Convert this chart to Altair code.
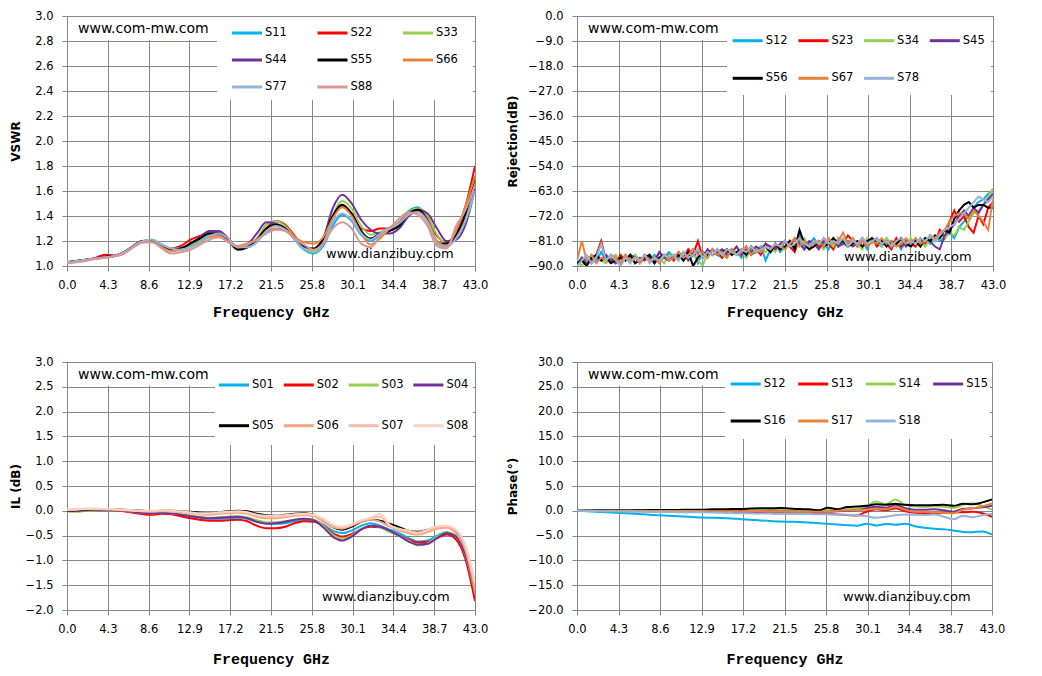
import altair as alt
import pandas as pd

# ---------------- frequency grids (GHz) ----------------
FREQ = list(range(44))                 # 0,1,...,43 GHz
FREQ_HALF = [i / 2 for i in range(87)]  # 0,0.5,...,43 GHz
X_TICKS = [0.0, 4.3, 8.6, 12.9, 17.2, 21.5, 25.8, 30.1, 34.4, 38.7, 43.0]

# ---------------- VSWR ----------------
VSWR_NAMES = ["S11", "S22", "S33", "S44", "S55", "S66", "S77", "S88"]
VSWR_COLORS = ["#00B0F0", "#FF0000", "#92D050", "#7030A0", "#000000", "#E8833A", "#95B3D7", "#D99694"]
VSWR_TICKS = [1.0, 1.2, 1.4, 1.6, 1.8, 2.0, 2.2, 2.4, 2.6, 2.8, 3.0]
S11 = [1.03, 1.04, 1.05, 1.06, 1.07, 1.08, 1.11, 1.16, 1.20, 1.21,
       1.17, 1.14, 1.14, 1.16, 1.20, 1.25, 1.27, 1.22, 1.14, 1.15,
       1.19, 1.29, 1.33, 1.30, 1.21, 1.13, 1.10, 1.16, 1.32, 1.41,
       1.36, 1.25, 1.20, 1.25, 1.30, 1.35, 1.44, 1.47, 1.37, 1.19,
       1.16, 1.22, 1.38, 1.62]
S22 = [1.03, 1.04, 1.05, 1.065, 1.09, 1.085, 1.11, 1.16, 1.20, 1.20,
       1.16, 1.14, 1.16, 1.21, 1.24, 1.27, 1.26, 1.21, 1.14, 1.15,
       1.21, 1.30, 1.36, 1.33, 1.24, 1.15, 1.12, 1.20, 1.39, 1.48,
       1.42, 1.30, 1.28, 1.30, 1.30, 1.33, 1.40, 1.44, 1.38, 1.24,
       1.19, 1.27, 1.48, 1.80]
S33 = [1.03, 1.04, 1.05, 1.06, 1.075, 1.08, 1.11, 1.16, 1.20, 1.21,
       1.17, 1.14, 1.14, 1.17, 1.21, 1.26, 1.26, 1.21, 1.14, 1.16,
       1.22, 1.33, 1.36, 1.32, 1.23, 1.14, 1.11, 1.18, 1.40, 1.52,
       1.46, 1.32, 1.25, 1.27, 1.30, 1.34, 1.43, 1.46, 1.40, 1.25,
       1.18, 1.23, 1.40, 1.68]
S44 = [1.03, 1.04, 1.05, 1.06, 1.075, 1.08, 1.11, 1.16, 1.20, 1.20,
       1.16, 1.13, 1.14, 1.18, 1.23, 1.28, 1.28, 1.22, 1.14, 1.17,
       1.26, 1.35, 1.34, 1.30, 1.22, 1.15, 1.13, 1.22, 1.46, 1.57,
       1.50, 1.37, 1.29, 1.26, 1.26, 1.30, 1.40, 1.45, 1.42, 1.30,
       1.20, 1.21, 1.33, 1.62]
S55 = [1.03, 1.04, 1.05, 1.06, 1.075, 1.08, 1.11, 1.16, 1.20, 1.20,
       1.16, 1.13, 1.14, 1.18, 1.22, 1.26, 1.26, 1.20, 1.13, 1.15,
       1.21, 1.30, 1.33, 1.30, 1.22, 1.15, 1.14, 1.22, 1.40, 1.49,
       1.42, 1.28, 1.22, 1.26, 1.28, 1.32, 1.42, 1.45, 1.36, 1.18,
       1.18, 1.25, 1.42, 1.72]
S66 = [1.03, 1.035, 1.05, 1.06, 1.07, 1.08, 1.10, 1.15, 1.19, 1.19,
       1.15, 1.12, 1.13, 1.15, 1.19, 1.23, 1.24, 1.20, 1.16, 1.18,
       1.21, 1.27, 1.30, 1.29, 1.23, 1.19, 1.18, 1.23, 1.38, 1.47,
       1.40, 1.26, 1.17, 1.22, 1.30, 1.35, 1.42, 1.43, 1.36, 1.20,
       1.16, 1.28, 1.48, 1.72]
S77 = [1.03, 1.04, 1.05, 1.06, 1.07, 1.08, 1.11, 1.16, 1.20, 1.21,
       1.17, 1.14, 1.13, 1.15, 1.19, 1.24, 1.26, 1.22, 1.15, 1.15,
       1.19, 1.28, 1.32, 1.29, 1.21, 1.14, 1.12, 1.18, 1.35, 1.42,
       1.37, 1.26, 1.21, 1.26, 1.31, 1.34, 1.41, 1.43, 1.35, 1.18,
       1.15, 1.22, 1.36, 1.60]
S88 = [1.02, 1.03, 1.04, 1.055, 1.065, 1.075, 1.10, 1.15, 1.19, 1.19,
       1.14, 1.10, 1.11, 1.13, 1.17, 1.21, 1.23, 1.19, 1.15, 1.17,
       1.21, 1.26, 1.29, 1.28, 1.22, 1.17, 1.13, 1.18, 1.30, 1.35,
       1.30, 1.18, 1.15, 1.24, 1.30, 1.38, 1.43, 1.41, 1.32, 1.16,
       1.14, 1.32, 1.45, 1.65]
VSWR = dict(zip(VSWR_NAMES, [S11, S22, S33, S44, S55, S66, S77, S88]))

# ---------------- Rejection (0.5 GHz step) ----------------
REJ_NAMES = ["S12", "S23", "S34", "S45", "S56", "S67", "S78"]
REJ_COLORS = ["#00B0F0", "#FF0000", "#92D050", "#7030A0", "#000000", "#E8833A", "#95B3D7"]
REJ_TICKS = [-90.0, -81.0, -72.0, -63.0, -54.0, -45.0, -36.0, -27.0, -18.0, -9.0, 0.0]
R12 = [-89, -87, -90, -86, -88, -85, -88, -86, -87, -89,
       -86, -88, -86, -89, -87, -88, -86, -88, -87, -85,
       -87, -85, -88, -86, -84, -89, -85, -87, -84, -86,
       -87, -84, -86, -85, -87, -84, -86, -85, -83, -88,
       -84, -82, -85, -83, -81, -83, -79, -84, -82, -80,
       -83, -82, -84, -80, -83, -81, -82, -80, -83, -81,
       -84, -80, -82, -83, -80, -83, -81, -84, -81, -83,
       -80, -83, -80, -82, -79, -81, -80, -78, -80, -76,
       -74, -72, -69, -67, -66, -64, -63]
R23 = [-90, -88, -87, -89, -86, -81, -88, -87, -89, -86,
       -88, -86, -89, -87, -88, -86, -88, -85, -87, -86,
       -88, -85, -87, -84, -86, -81, -87, -85, -86, -84,
       -87, -85, -84, -86, -85, -83, -86, -84, -86, -82,
       -85, -83, -84, -81, -83, -85, -80, -82, -84, -81,
       -83, -80, -82, -84, -80, -82, -79, -81, -83, -80,
       -82, -80, -83, -81, -82, -84, -80, -83, -81, -82,
       -83, -80, -82, -79, -81, -77, -80, -74, -70, -74,
       -72, -76, -78, -72, -75, -69, -67]
R34 = [-88, -90, -87, -88, -86, -88, -89, -87, -86, -88,
       -87, -89, -86, -88, -87, -86, -88, -87, -89, -86,
       -87, -88, -85, -87, -86, -88, -90, -85, -86, -84,
       -86, -87, -84, -86, -85, -87, -84, -85, -83, -85,
       -83, -85, -82, -84, -81, -83, -82, -80, -83, -81,
       -82, -84, -81, -83, -80, -82, -83, -80, -82, -84,
       -80, -82, -81, -83, -80, -82, -83, -81, -82, -80,
       -82, -81, -83, -80, -81, -79, -80, -78, -79, -76,
       -77, -74, -71, -70, -68, -65, -62]
R45 = [-90, -87, -89, -88, -87, -88, -86, -88, -89, -87,
       -88, -86, -87, -88, -86, -87, -89, -85, -87, -88,
       -86, -87, -85, -88, -86, -85, -87, -84, -86, -85,
       -84, -86, -85, -83, -86, -84, -85, -83, -84, -82,
       -83, -84, -82, -81, -83, -80, -82, -84, -81, -82,
       -84, -81, -82, -80, -83, -82, -81, -83, -82, -80,
       -83, -81, -80, -82, -81, -83, -82, -80, -83, -81,
       -81, -82, -80, -81, -83, -84, -79, -77, -75, -72,
       -70, -72, -69, -71, -68, -66, -64]
R56 = [-89, -88, -90, -87, -86, -88, -87, -89, -88, -87,
       -88, -86, -89, -88, -87, -86, -89, -87, -86, -88,
       -87, -86, -88, -85, -90, -87, -85, -86, -84, -86,
       -85, -84, -86, -85, -84, -86, -83, -85, -84, -83,
       -85, -82, -84, -83, -81, -84, -77, -82, -84, -83,
       -81, -83, -82, -80, -82, -81, -83, -82, -81, -83,
       -81, -80, -82, -81, -83, -81, -82, -80, -82, -83,
       -81, -83, -80, -81, -79, -80, -77, -78, -73, -70,
       -68, -67, -69, -68, -68, -69, -69]
R67 = [-88, -81, -88, -86, -89, -87, -88, -86, -87, -89,
       -86, -88, -87, -89, -86, -88, -87, -89, -86, -88,
       -87, -85, -87, -86, -84, -86, -85, -87, -84, -86,
       -85, -87, -84, -86, -85, -83, -86, -84, -85, -83,
       -84, -82, -83, -84, -82, -80, -83, -81, -83, -82,
       -81, -83, -80, -82, -81, -78, -82, -80, -83, -81,
       -83, -81, -82, -80, -82, -81, -83, -82, -80, -82,
       -80, -82, -81, -79, -80, -78, -77, -74, -72, -71,
       -71, -73, -70, -72, -74, -77, -66]
R78 = [-90, -88, -86, -89, -87, -82, -88, -86, -88, -90,
       -87, -89, -87, -88, -86, -89, -87, -88, -86, -87,
       -86, -88, -85, -87, -86, -84, -87, -85, -86, -84,
       -86, -84, -85, -86, -84, -85, -83, -85, -84, -83,
       -84, -82, -83, -81, -83, -82, -80, -82, -83, -81,
       -82, -80, -82, -81, -82, -80, -83, -81, -82, -80,
       -82, -81, -80, -82, -81, -83, -81, -80, -82, -81,
       -82, -80, -81, -79, -81, -79, -77, -76, -75, -73,
       -71, -69, -67, -65, -66, -67, -65]
REJ = dict(zip(REJ_NAMES, [R12, R23, R34, R45, R56, R67, R78]))

# ---------------- Insertion loss ----------------
IL_NAMES = ["S01", "S02", "S03", "S04", "S05", "S06", "S07", "S08"]
IL_COLORS = ["#00B0F0", "#FF0000", "#92D050", "#7030A0", "#000000", "#F4A683", "#F6BBA4", "#F8D2C2"]
IL_TICKS = [-2.0, -1.5, -1.0, -0.5, 0.0, 0.5, 1.0, 1.5, 2.0, 2.5, 3.0]
S01 = [0.0, 0.0, 0.01, 0.02, 0.02, 0.02, 0.0, -0.02, -0.04, -0.05,
       -0.04, -0.05, -0.08, -0.11, -0.14, -0.16, -0.16, -0.15, -0.14, -0.16,
       -0.22, -0.25, -0.26, -0.25, -0.21, -0.18, -0.19, -0.28, -0.40, -0.45,
       -0.40, -0.30, -0.25, -0.30, -0.38, -0.45, -0.55, -0.62, -0.60, -0.50,
       -0.43, -0.50, -0.85, -1.65]
S02 = [0.0, 0.0, 0.01, 0.02, 0.02, 0.01, -0.01, -0.04, -0.07, -0.08,
       -0.06, -0.07, -0.11, -0.15, -0.18, -0.20, -0.20, -0.19, -0.18, -0.21,
       -0.30, -0.35, -0.35, -0.32, -0.25, -0.21, -0.22, -0.30, -0.45, -0.52,
       -0.47, -0.37, -0.32, -0.33, -0.42, -0.50, -0.58, -0.64, -0.63, -0.55,
       -0.48, -0.58, -0.98, -1.82]
S03 = [-0.02, -0.02, 0.0, 0.01, 0.02, 0.02, 0.0, -0.02, -0.04, -0.05,
       -0.04, -0.05, -0.07, -0.10, -0.12, -0.14, -0.13, -0.12, -0.11, -0.13,
       -0.19, -0.23, -0.23, -0.21, -0.18, -0.16, -0.18, -0.30, -0.48, -0.56,
       -0.50, -0.36, -0.30, -0.33, -0.42, -0.50, -0.60, -0.70, -0.66, -0.52,
       -0.44, -0.52, -0.90, -1.65]
S04 = [0.0, 0.0, 0.01, 0.02, 0.02, 0.02, 0.0, -0.02, -0.04, -0.05,
       -0.04, -0.05, -0.08, -0.11, -0.13, -0.15, -0.14, -0.13, -0.12, -0.15,
       -0.22, -0.26, -0.25, -0.22, -0.18, -0.16, -0.19, -0.33, -0.52, -0.60,
       -0.52, -0.38, -0.30, -0.32, -0.40, -0.50, -0.62, -0.68, -0.67, -0.55,
       -0.45, -0.52, -0.88, -1.60]
S05 = [0.0, 0.01, 0.02, 0.03, 0.03, 0.03, 0.02, 0.01, 0.0, -0.01,
       0.0, 0.0, -0.01, -0.02, -0.04, -0.05, -0.03, -0.01, 0.0, -0.01,
       -0.06, -0.09, -0.10, -0.08, -0.06, -0.05, -0.08, -0.20, -0.33, -0.38,
       -0.32, -0.22, -0.18, -0.20, -0.26, -0.33, -0.40, -0.42, -0.38, -0.33,
       -0.32, -0.42, -0.75, -1.55]
S06 = [0.01, 0.02, 0.03, 0.03, 0.03, 0.02, 0.01, 0.0, -0.01, -0.02,
       -0.01, -0.02, -0.03, -0.05, -0.07, -0.08, -0.06, -0.05, -0.04, -0.06,
       -0.12, -0.15, -0.15, -0.13, -0.10, -0.09, -0.11, -0.22, -0.33, -0.36,
       -0.30, -0.22, -0.18, -0.22, -0.32, -0.40, -0.45, -0.48, -0.43, -0.36,
       -0.34, -0.45, -0.80, -1.60]
S07 = [0.02, 0.03, 0.04, 0.04, 0.03, 0.03, 0.02, 0.0, -0.01, -0.01,
       0.0, -0.01, -0.02, -0.04, -0.06, -0.06, -0.04, -0.03, -0.02, -0.04,
       -0.09, -0.12, -0.12, -0.10, -0.08, -0.07, -0.09, -0.18, -0.30, -0.34,
       -0.28, -0.20, -0.15, -0.12, -0.30, -0.38, -0.42, -0.46, -0.40, -0.33,
       -0.31, -0.40, -0.72, -1.50]
S08 = [0.02, 0.03, 0.04, 0.04, 0.04, 0.03, 0.02, 0.01, 0.0, 0.0,
       0.01, 0.0, -0.01, -0.03, -0.05, -0.05, -0.03, -0.02, -0.01, -0.03,
       -0.08, -0.10, -0.10, -0.09, -0.07, -0.06, -0.08, -0.16, -0.28, -0.32,
       -0.27, -0.19, -0.14, -0.06, -0.28, -0.36, -0.40, -0.44, -0.38, -0.31,
       -0.30, -0.38, -0.70, -1.45]
IL = dict(zip(IL_NAMES, [S01, S02, S03, S04, S05, S06, S07, S08]))

# ---------------- Phase ----------------
PH_NAMES = ["S12", "S13", "S14", "S15", "S16", "S17", "S18"]
PH_COLORS = ["#00B0F0", "#FF0000", "#92D050", "#7030A0", "#000000", "#E8833A", "#95B3D7"]
PH_TICKS = [-20.0, -15.0, -10.0, -5.0, 0.0, 5.0, 10.0, 15.0, 20.0, 25.0, 30.0]
P12 = [0.0, -0.1, -0.2, -0.3, -0.4, -0.5, -0.6, -0.7, -0.85, -0.95,
       -1.05, -1.15, -1.25, -1.35, -1.4, -1.45, -1.55, -1.7, -1.8, -1.95,
       -2.05, -2.15, -2.2, -2.25, -2.35, -2.5, -2.6, -2.75, -2.9, -3.0,
       -2.6, -2.95, -2.65, -2.8, -2.6, -3.1, -3.4, -3.6, -3.7, -3.95,
       -4.25, -4.3, -4.15, -4.8]
P13 = [0.0, 0.0, 0.0, -0.05, -0.05, -0.1, -0.1, -0.1, -0.15, -0.15,
       -0.15, -0.2, -0.2, -0.2, -0.25, -0.25, -0.3, -0.3, -0.35, -0.4,
       -0.45, -0.5, -0.5, -0.55, -0.6, -0.6, -0.65, -0.75, -0.85, -0.95,
       -0.2, 0.3, 0.1, 0.5, -0.1, -0.4, -0.5, -0.6, -0.4, -0.3,
       -0.3, -0.2, -0.5, -1.2]
P14 = [0.0, 0.0, 0.05, 0.05, 0.05, 0.05, 0.05, 0.05, 0.0, 0.0,
       0.0, 0.0, 0.0, 0.0, 0.0, 0.0, 0.0, 0.05, 0.1, 0.1,
       0.15, 0.15, 0.0, -0.05, -0.1, 0.2, 0.1, 0.2, 0.3, 0.4,
       1.0, 1.9, 1.3, 2.3, 1.2, 0.9, 0.8, 0.9, 0.8, 0.6,
       1.2, 1.5, 1.0, 0.2]
P15 = [0.0, 0.0, 0.0, 0.0, 0.0, 0.0, 0.0, -0.05, -0.05, -0.05,
       -0.05, -0.05, -0.1, -0.1, -0.1, -0.1, -0.1, -0.1, -0.1, -0.1,
       -0.1, -0.15, -0.15, -0.2, -0.2, -0.25, -0.2, -0.1, 0.0, 0.1,
       0.5, 0.8, 0.6, 1.2, 0.5, 0.2, 0.2, 0.3, 0.1, -0.2,
       0.4, 0.5, 0.7, 1.0]
P16 = [0.0, 0.05, 0.1, 0.1, 0.1, 0.1, 0.15, 0.15, 0.15, 0.15,
       0.15, 0.2, 0.2, 0.2, 0.3, 0.3, 0.35, 0.35, 0.45, 0.5,
       0.5, 0.55, 0.45, 0.35, 0.3, 0.1, 0.6, 0.3, 0.75, 0.85,
       1.0, 1.3, 1.2, 1.4, 1.2, 1.1, 1.1, 1.15, 1.2, 1.0,
       1.4, 1.3, 1.7, 2.3]
P17 = [0.0, 0.0, 0.0, 0.0, 0.0, 0.0, 0.0, 0.0, -0.05, -0.05,
       -0.05, -0.05, -0.05, -0.05, -0.1, -0.1, -0.1, -0.1, -0.05, -0.05,
       -0.1, -0.1, -0.15, -0.2, -0.2, -0.2, -0.15, 0.0, 0.1, 0.15,
       0.2, 0.4, 0.3, 0.8, 0.2, -0.2, -0.2, -0.3, -0.4, -0.5,
       0.2, 0.5, 0.9, 1.5]
P18 = [0.0, -0.05, -0.05, -0.1, -0.1, -0.15, -0.15, -0.2, -0.2, -0.25,
       -0.25, -0.3, -0.3, -0.3, -0.35, -0.4, -0.45, -0.5, -0.5, -0.55,
       -0.55, -0.6, -0.6, -0.65, -0.65, -0.7, -0.7, -0.75, -0.8, -0.9,
       -1.1, -1.4, -1.2, -0.9, -0.75, -0.8, -0.85, -0.75, -1.2, -1.7,
       -1.0, -1.3, -0.9, -0.6]
PH = dict(zip(PH_NAMES, [P12, P13, P14, P15, P16, P17, P18]))

GRID = "#878787"
WM_TOP = "www.com-mw.com"
WM_BOTTOM = "www.dianzibuy.com"


def long_df(freq, series, names):
    rows = []
    for n in names:
        for f, v in zip(freq, series[n]):
            rows.append({"f": f, "v": v, "s": n})
    return pd.DataFrame(rows)


def legend_layers(names, colors, x0, dx, y0, dy, ncol):
    out = []
    for i, (n, c) in enumerate(zip(names, colors)):
        r, k = divmod(i, ncol)
        lx = x0 + k * dx
        ly = y0 + r * dy
        src = pd.DataFrame({"n": [n]})
        out.append(alt.Chart(src).mark_rule(color=c, strokeWidth=3).encode(
            x=alt.value(lx), x2=alt.value(lx + 30), y=alt.value(ly)))
        out.append(alt.Chart(src).mark_text(align="left", baseline="middle",
                                            font="DejaVu Sans", fontSize=11.5,
                                            color="#000000").encode(
            text="n:N", x=alt.value(lx + 33), y=alt.value(ly)))
    return out


def panel(freq, series, names, colors, ytitle, ydom, yticks, w, h, ytp, xtp, interp,
          leg, strip_h, box, wm2_pos):
    df = long_df(freq, series, names)
    one = pd.DataFrame({"t": [WM_TOP], "u": [WM_BOTTOM]})
    x = alt.X("f:Q", scale=alt.Scale(domain=[0, 43], nice=False, zero=False),
              axis=alt.Axis(values=X_TICKS, format=".1f", title="Frequency GHz",
                            titlePadding=xtp))
    y = alt.Y("v:Q", scale=alt.Scale(domain=ydom, nice=False, zero=False),
              axis=alt.Axis(values=yticks, format=".1f", title=ytitle, titlePadding=ytp))
    lines = alt.Chart(df).mark_line(strokeWidth=2, clip=True, interpolate=interp).encode(
        x=x, y=y,
        color=alt.Color("s:N", sort=names, scale=alt.Scale(domain=names, range=colors),
                        legend=None),
    )
    strip = alt.Chart(one).mark_rect(color="white").encode(
        x=alt.value(1), x2=alt.value(box[0]), y=alt.value(1), y2=alt.value(strip_h))
    lbox = alt.Chart(one).mark_rect(color="white").encode(
        x=alt.value(box[0]), x2=alt.value(box[1]), y=alt.value(1), y2=alt.value(box[2]))
    t1 = alt.Chart(one).mark_text(align="left", baseline="middle", font="DejaVu Sans",
                                  fontSize=14, color="#000000").encode(
        text="t:N", x=alt.value(11), y=alt.value(12.5))
    t2 = alt.Chart(one).mark_text(align="left", baseline="middle", font="DejaVu Sans",
                                  fontSize=13, color="#000000").encode(
        text="u:N", x=alt.value(wm2_pos[0]), y=alt.value(wm2_pos[1]))
    layers = [strip, lbox, lines] + legend_layers(names, colors, *leg) + [t1, t2]
    return alt.layer(*layers).properties(width=w, height=h)


tl = panel(FREQ, VSWR, VSWR_NAMES, VSWR_COLORS, "VSWR", [1.0, 3.0], VSWR_TICKS, 408, 250,
           12, 14, "monotone", (165, 85.5, 17, 27, 3), 24, (150, 406, 84), (259, 238))
tr = panel(FREQ_HALF, REJ, REJ_NAMES, REJ_COLORS, "Rejection(dB)", [-90.0, 0.0], REJ_TICKS,
           416, 250, 8, 14, "linear", (155.7, 65.7, 24.7, 37.6, 4), 24, (150, 414, 79),
           (267, 241))
bl = panel(FREQ, IL, IL_NAMES, IL_COLORS, "IL (dB)", [-2.0, 3.0], IL_TICKS, 408, 248,
           3, 17, "monotone", (152, 64.8, 23, 40.7, 4), 23.5, (148, 406, 83), (255, 235))
br = panel(FREQ, PH, PH_NAMES, PH_COLORS, "Phase(°)", [-20.0, 30.0], PH_TICKS, 415, 248,
           8, 17, "monotone", (153.7, 67.5, 22, 37, 4), 23.5, (148, 413, 77), (266, 235))

chart = alt.concat(
    tl, tr, bl, br, columns=2, bounds="flush", align="all",
    spacing=alt.RowColnumber(row=96, column=94),
).resolve_scale(
    color="independent"
).properties(
    autosize=alt.AutoSizeParams(type="none"),
    padding={"left": 59, "top": 8, "right": 955, "bottom": 656},
    background="white",
).configure_view(
    stroke=None
).configure_axis(
    grid=True, gridColor=GRID, gridWidth=1, domainColor=GRID, domainWidth=1,
    tickColor=GRID, tickSize=5, labelFont="DejaVu Sans", labelFontSize=11.5,
    labelColor="#000000", labelPadding=8, labelFlush=False, labelOverlap=False,
    titleColor="#000000",
).configure_axisX(
    titleFont="Liberation Mono", titleFontSize=15, titleFontWeight="bold",
).configure_axisY(
    titleFont="DejaVu Sans", titleFontSize=12, titleFontWeight="bold", labelPadding=9,
)

chart.save("out.html", embed_options={"renderer": "svg", "actions": False})
